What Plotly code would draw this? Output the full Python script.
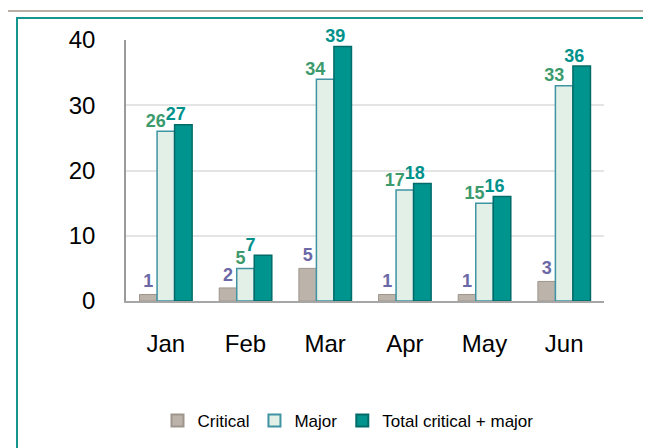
import plotly.graph_objects as go

months = ["Jan", "Feb", "Mar", "Apr", "May", "Jun"]
critical = [1, 2, 5, 1, 1, 3]
major = [26, 5, 34, 17, 15, 33]
total = [27, 7, 39, 18, 16, 36]
y_ticks = [0, 10, 20, 30, 40]

W, H = 651, 448
L, R, T, B = 118, 55, 32, 155
pw, ph = W - L - R, H - T - B

def px_x(p):
    return (p - L) / pw

def px_y(p):
    return (H - B - p) / ph

fig = go.Figure()
fig.add_trace(go.Bar(
    name="Critical", x=months, y=critical,
    marker=dict(color="#bcb3aa", line=dict(color="#9e958c", width=1)),
    text=[f"<b>{v}</b>" for v in critical], textposition="outside",
    textfont=dict(color="#6a68a6", size=18, family="Liberation Sans"),
    cliponaxis=False, constraintext="none",
))
fig.add_trace(go.Bar(
    name="Major", x=months, y=major,
    marker=dict(color="#e2f0e7", line=dict(color="#3f93a3", width=1.5)),
    cliponaxis=False,
))
fig.add_trace(go.Bar(
    name="Total critical + major", x=months, y=total,
    marker=dict(color="#00948f", line=dict(color="#006b68", width=1.5)),
    cliponaxis=False,
))
# value labels for Major (left-shifted) and Total (right-shifted)
fig.add_trace(go.Scatter(
    x=months, y=major, mode="text", text=[f"<b>{v}</b>" for v in major],
    textposition="top left", showlegend=False, hoverinfo="skip",
    textfont=dict(color="#3c9a6c", size=18, family="Liberation Sans"),
    cliponaxis=False,
))
fig.add_trace(go.Scatter(
    x=months, y=total, mode="text", text=[f"<b>{v}</b>" for v in total],
    textposition="top right", showlegend=False, hoverinfo="skip",
    textfont=dict(color="#00918b", size=18, family="Liberation Sans"),
    cliponaxis=False,
))

fig.update_layout(
    width=W, height=H,
    margin=dict(l=L, r=R, t=T, b=B),
    paper_bgcolor="white", plot_bgcolor="white",
    barmode="group", bargap=0.34, bargroupgap=0.0,
    font=dict(family="Liberation Sans", color="black"),
    showlegend=True,
    legend=dict(orientation="h", x=px_x(340), xanchor="center",
                y=px_y(413), yanchor="middle",
                font=dict(size=17, color="black"),
                itemwidth=30, traceorder="normal", itemsizing="constant",
                tracegroupgap=0),
    xaxis=dict(showgrid=False, showline=True, linecolor="#a6a6a6", linewidth=1.5,
               tickfont=dict(size=24), ticks="", ticklabelstandoff=20),
    yaxis=dict(range=[0, 40], tickvals=y_ticks, showgrid=True, gridcolor="#e4e4e4",
               gridwidth=1.5, showline=True, linecolor="#9a9a9a", linewidth=1.5,
               zeroline=False, tickfont=dict(size=24), ticks="",
               ticklabelstandoff=24),
    shapes=[
        dict(type="line", xref="paper", yref="paper",
             x0=px_x(0), x1=px_x(W), y0=px_y(3), y1=px_y(3),
             line=dict(color="#b7aea6", width=2)),
        dict(type="rect", xref="paper", yref="paper",
             x0=px_x(9), x1=px_x(W + 20), y0=px_y(10), y1=px_y(H + 20),
             line=dict(color="#14958f", width=2)),
    ],
)

fig.write_html("out.html")
